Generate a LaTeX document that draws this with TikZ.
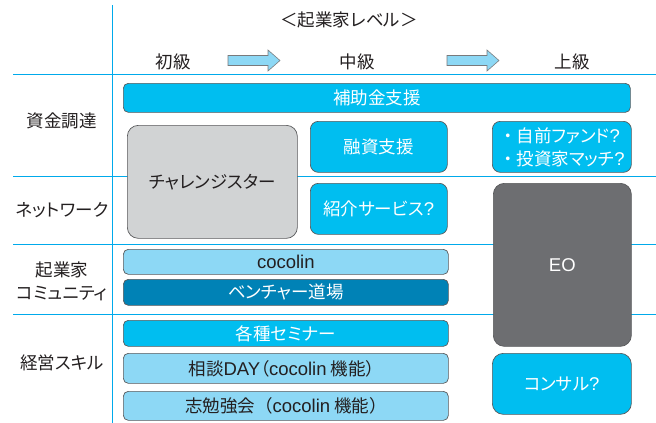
\documentclass[tikz,border=0pt]{standalone}
\usepackage{fontspec}
\setmainfont{Noto Sans CJK JP}[RawFeature=+palt]
\newfontfamily\fullw{Noto Sans CJK JP}
\newfontfamily\latinfam{Liberation Sans}
\newcommand{\latn}[1]{{\latinfam\fontsize{18.5pt}{23pt}\selectfont #1}}
\newcommand{\fw}[1]{{\fullw #1}}
\definecolor{cyanbox}{RGB}{0,190,240}
\definecolor{lightbox}{RGB}{141,216,245}
\definecolor{darkbluebox}{RGB}{0,130,182}
\definecolor{lightgraybox}{RGB}{209,211,212}
\definecolor{darkgraybox}{RGB}{109,110,113}
\definecolor{edgegray}{RGB}{88,89,91}
\definecolor{rulecol}{RGB}{0,170,235}
\definecolor{ink}{RGB}{35,31,32}
\tikzset{
  rulel/.style={draw=rulecol, line width=1pt},
  box/.style={draw=edgegray, line width=0.7pt, inner sep=0pt, anchor=north west,
    font=\fontsize{17.5pt}{23pt}\selectfont},
  bar/.style={box, rounded corners=5pt},
  big/.style={box, rounded corners=11pt},
  lbl/.style={text=ink, inner sep=0pt, align=center, font=\fontsize{17.5pt}{23pt}\selectfont},
  lvarrow/.style={draw=edgegray!80, line width=0.6pt, fill=lightbox},
}
\begin{document}
\begin{tikzpicture}[x=1pt, y=-1pt]
\useasboundingbox (0,0) rectangle (656,423);
% grid rules
\draw[rulel] (112,5) -- (112,423);
\draw[rulel] (13,74) -- (656,74);
\draw[rulel] (13,176) -- (656,176);
\draw[rulel] (13,244) -- (656,244);
\draw[rulel] (13,314) -- (656,314);
% header
\node[lbl] (title) at (349,20) {\fw{＜}起業家レベル\fw{＞}};
\node[lbl] (shokyu) at (173,62) {初級};
\node[lbl] (chukyu) at (357,62) {中級};
\node[lbl] (jokyu) at (572,62) {上級};
\draw[lvarrow] (228,55.5) -- (268,55.5) -- (268,50) -- (280,60.5) -- (268,71) -- (268,65.5) -- (228,65.5) -- cycle;
\draw[lvarrow] (447,55.5) -- (487,55.5) -- (487,50) -- (499,60.5) -- (487,71) -- (487,65.5) -- (447,65.5) -- cycle;
% row labels
\node[lbl] (r1) at (62,121) {資金調達};
\node[lbl] (r2) at (62,210) {ネットワーク};
\node[lbl] (r3) at (62,281) {起業家\\コミュニティ};
\node[lbl] (r4) at (62,363) {経営スキル};
% boxes
\node[bar, fill=cyanbox, text=white, minimum width=507pt, minimum height=29pt] (hojo) at (123,83) {補助金支援};
\node[big, fill=lightgraybox, text=ink, minimum width=170pt, minimum height=113pt] (challenge) at (127,125) {チャレンジスター};
\node[bar, rounded corners=8pt, fill=cyanbox, text=white, minimum width=137pt, minimum height=51pt] (yushi) at (310,121) {融資支援};
\node[bar, rounded corners=8pt, fill=cyanbox, text=white, minimum width=139pt, minimum height=51pt, align=left] (fund) at (492,121) {\fw{・}自前ファンド\latn{?}\\\fw{・}投資家マッチ\latn{?}};
\node[bar, rounded corners=8pt, fill=cyanbox, text=white, minimum width=137pt, minimum height=51pt] (shokai) at (310,183) {紹介サービス\latn{?}};
\node[big, fill=darkgraybox, text=white, minimum width=138pt, minimum height=163pt] (eo) at (493,183) {\latn{EO}};
\node[bar, fill=lightbox, text=ink, minimum width=325pt, minimum height=25pt] (cocolin) at (123,249) {\latn{cocolin}};
\node[bar, fill=darkbluebox, text=white, minimum width=325pt, minimum height=26pt] (dojo) at (123,279) {ベンチャー道場};
\node[bar, fill=cyanbox, text=white, minimum width=325pt, minimum height=26pt] (seminar) at (123,320) {各種セミナー};
\node[bar, fill=lightbox, text=ink, minimum width=325pt, minimum height=30pt] (sodan) at (123,353) {相談\latn{DAY}（\latn{cocolin} 機能\fw{）}};
\node[bar, fill=lightbox, text=ink, minimum width=325pt, minimum height=29pt] (benkyo) at (123,391) {志勉強会\fw{（}\latn{cocolin} 機能\fw{）}};
\node[big, fill=cyanbox, text=white, minimum width=139pt, minimum height=61pt] (consul) at (492,353) {コンサル\latn{?}};
\end{tikzpicture}
\end{document}
